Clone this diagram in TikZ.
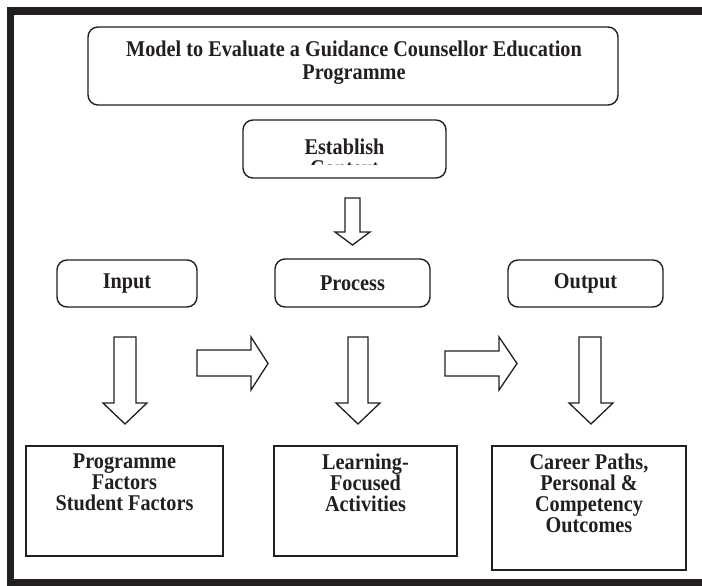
\documentclass[tikz,border=0pt]{standalone}
\usepackage{fontspec}
\setmainfont{Liberation Serif}[FakeStretch=0.9]
\definecolor{ink}{HTML}{231F20}
\tikzset{
  txt/.style={font=\fontsize{22.5}{21}\selectfont\bfseries, align=center, inner sep=0pt, text=ink},
  rbox/.style={draw=ink, line width=1.4pt, rounded corners=10pt, txt},
  sbox/.style={draw=ink, line width=1.3pt, inner sep=0pt},
  barrow/.style={draw=ink, line width=1.3pt, fill=white, line join=miter},
}
\begin{document}
\begin{tikzpicture}[x=1pt,y=-1pt]
\useasboundingbox (0,0) rectangle (702,586);
\begin{scope}
  \clip (0,0) rectangle (702,586);
  \draw[line width=7.5pt, ink] (10.5,11) rectangle (720,582.5);
\end{scope}

% title
\node[rbox, minimum width=530pt, minimum height=78pt] (title) at (353,66) {};
\node[txt, font=\fontsize{22.5}{23}\selectfont\bfseries] (titletxt) at (354,63)
  {Model to Evaluate a Guidance Counsellor Education\\Programme};

% establish context
\node[rbox, minimum width=203pt, minimum height=58pt] (est) at (344.5,149) {};
\begin{scope}
  \clip ([xshift=2pt,yshift=-2pt]est.north west) rectangle ([xshift=-2pt,yshift=14.5pt]est.south east);
  \node[txt, anchor=north] (esttxt) at (344.5,138.5) {Establish\\Context};
\end{scope}

% arrow from establish
\draw[barrow] (345,198) -- (360,198) -- (360,232) -- (370,232) -- (352.5,245)
  -- (335,232) -- (345,232) -- cycle;

% input process output
\node[rbox, minimum width=140pt, minimum height=47pt] (in) at (127,283.5) {Input};
\node[rbox, minimum width=155pt, minimum height=48pt] (pr) at (352.5,283) {Process};
\node[rbox, minimum width=155pt, minimum height=47pt] (out) at (585.5,283.5) {Output};

% down arrows
\draw[barrow] (114,337) -- (136,337) -- (136,403) -- (147,403) -- (125,424)
  -- (103,403) -- (114,403) -- cycle;
\draw[barrow] (348,337) -- (368,337) -- (368,403) -- (380,403) -- (358,424)
  -- (336,403) -- (348,403) -- cycle;
\draw[barrow] (579,337) -- (601,337) -- (601,403) -- (613,403) -- (591,424)
  -- (569,403) -- (579,403) -- cycle;

% right arrows
\draw[barrow] (197,350) -- (251,350) -- (251,337) -- (268,363.5) -- (251,390)
  -- (251,376) -- (197,376) -- cycle;
\draw[barrow] (445,351) -- (499,351) -- (499,337) -- (517,363.5) -- (499,390)
  -- (499,376) -- (445,376) -- cycle;

% bottom boxes
\node[sbox, minimum width=197pt, minimum height=110pt] (lb) at (124.5,501) {};
\node[txt, anchor=north] (lbt) at (124.5,454) {Programme\\Factors\\Student Factors};
\node[sbox, minimum width=183pt, minimum height=110pt] (mb) at (365.5,501) {};
\node[txt, anchor=north] (mbt) at (365.5,454) {Learning-\\Focused\\Activities};
\node[sbox, minimum width=194pt, minimum height=124pt] (rb) at (589,508) {};
\node[txt, anchor=north] (rbt) at (589,454) {Career Paths,\\Personal \&\\Competency\\Outcomes};
\end{tikzpicture}
\end{document}
